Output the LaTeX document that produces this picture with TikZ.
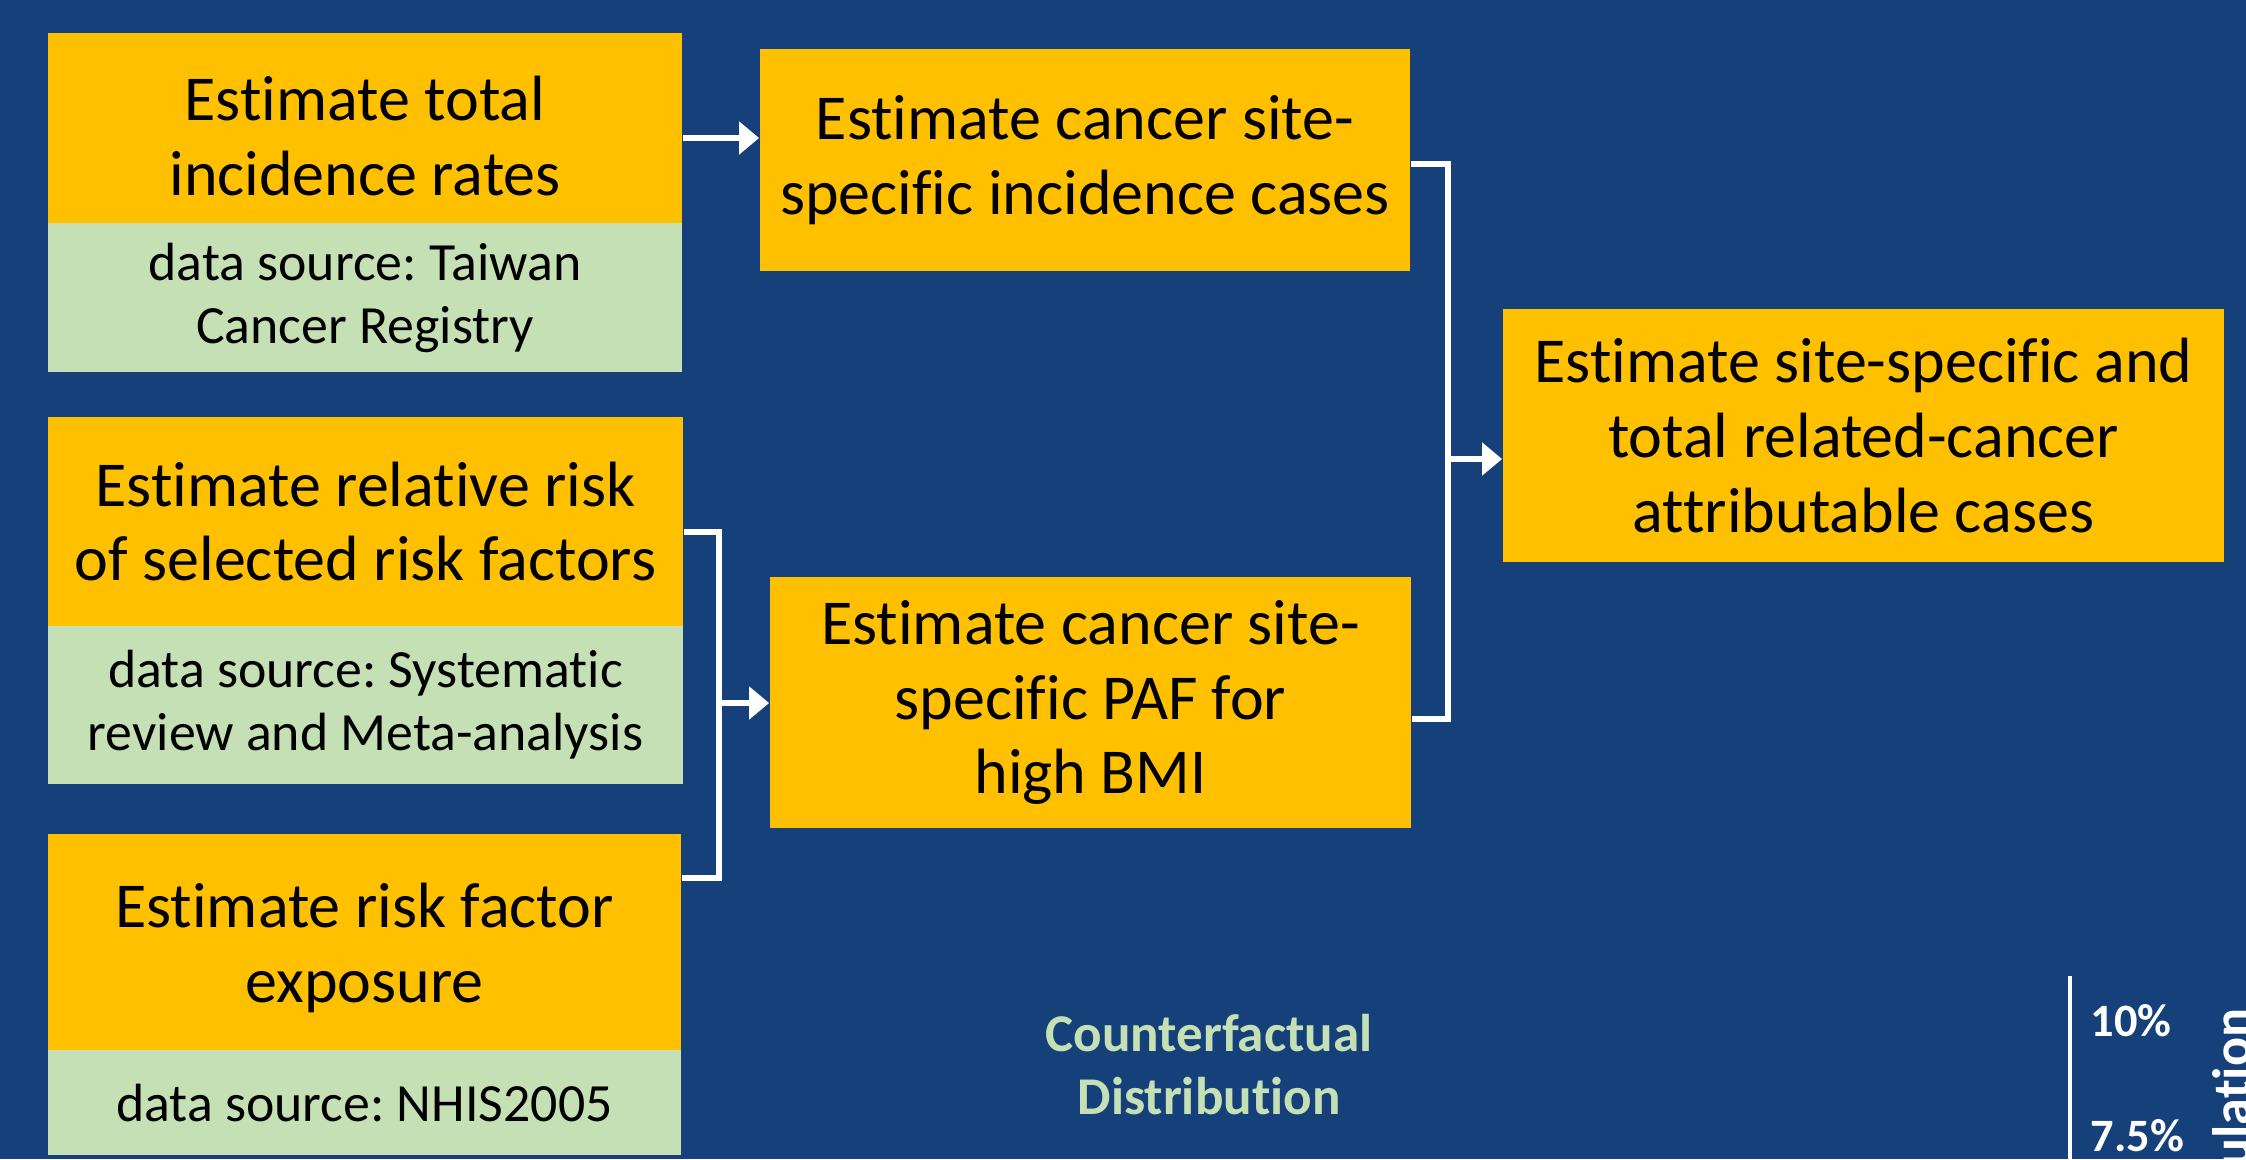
\documentclass[tikz,border=0pt]{standalone}
\usepackage{fontspec}
\setmainfont{Carlito}[Ligatures = NoCommon]
\usetikzlibrary{arrows.meta}

\definecolor{slide}{RGB}{21,64,122}
\definecolor{boxorange}{RGB}{255,192,0}
\definecolor{boxgreen}{RGB}{197,224,180}

\frenchspacing

\begin{document}
\begin{tikzpicture}[
  x = 0.01cm, y = -0.01cm,
  task/.style = {rectangle, fill = boxorange, inner sep = 0pt, align = center,
    font = \fontsize{18.2}{21.3}\selectfont},
  source/.style = {rectangle, fill = boxgreen, inner sep = 0pt, align = center,
    font = \fontsize{15.3}{17.9}\selectfont},
  link/.style = {draw = white, line width = 0.06cm},
  flow/.style = {link, -{Triangle[length = 0.2cm, width = 0.32cm]}},
  tick/.style = {anchor = base west, inner sep = 0pt, text = white,
    font = \bfseries\fontsize{13.2}{16}\selectfont}
  ]

  % Background
  \fill [slide] (0, 0) rectangle (2246, 1159);
  \useasboundingbox (0, 0) rectangle (2246, 1159);
  \clip (0, 0) rectangle (2246, 1159);

  % Nodes (the green source boxes lie over the foot of the orange ones)
  \node at ( 365, 136) [task, name = inc, minimum width = 6.34cm,
    minimum height = 2.06cm] {Estimate total\\incidence rates};
  \node at ( 365, 297.5) [source, name = inc_src, minimum width = 6.34cm,
    minimum height = 1.49cm] {data source: Taiwan\\Cancer Registry};

  \node at ( 365.5, 521.5) [task, name = rr, minimum width = 6.35cm,
    minimum height = 2.09cm] {Estimate relative risk\\of selected risk factors};
  \node at ( 365.5, 705) [source, name = rr_src, minimum width = 6.35cm,
    minimum height = 1.58cm] {data source: Systematic\\review and Meta-analysis};

  \node at ( 364.5, 948) [task, name = expo, minimum width = 6.33cm,
    minimum height = 2.28cm] {Estimate risk factor\\exposure};
  \node at ( 364.5, 1102.5) [source, name = expo_src, minimum width = 6.33cm,
    minimum height = 1.05cm] {data source: NHIS2005};

  \node at (1085, 160) [task, name = cases, minimum width = 6.50cm,
    minimum height = 2.22cm] {Estimate cancer site-\\specific incidence cases};
  \node at (1090.5, 702.5) [task, name = paf, minimum width = 6.41cm,
    minimum height = 2.51cm] {Estimate cancer site-\\specific PAF for\\high BMI};

  \node at (1863.5, 435.5) [task, name = total, minimum width = 7.21cm,
    minimum height = 2.53cm]
  {Estimate site-specific and\\total related-cancer\\attributable cases};

  \node at (1209, 1065) [align = center, text = boxgreen, inner sep = 0pt,
    font = \bfseries\fontsize{15.1}{17.9}\selectfont, name = cf_label]
  {Counterfactual\\Distribution};

  % partly cut chart at the corner
  \draw [white, line width = 0.04cm] (2070, 976) -- (2070, 1170);
  \node at (2090, 1036) [tick, name = tick_hi] {10\%};
  \node at (2090, 1151) [tick, name = tick_lo] {7.5\%};
  \node at (2250, 1008) [anchor = base east, rotate = 90, inner sep = 0pt,
    text = white, font = \bfseries\fontsize{15.4}{18}\selectfont,
    name = axis_label] {Population};

  % Arrows
  \coordinate (join_left)  at ( 719, 703);
  \coordinate (join_right) at (1448, 459);

  \draw [flow] ([yshift = -0.2mm]inc.east) -- ([yshift = -0.2mm]inc.east -| cases.west);

  \draw [link] ([yshift = -1.05mm]rr.east) -| (join_left)
    |- ([yshift = 7mm]expo.east);
  \draw [flow] (join_left) -- (join_left -| paf.west);

  \draw [link] ([yshift = -0.4mm]cases.east) -| (join_right)
    |- ([yshift = -1.65mm]paf.east);
  \draw [flow] (join_right) -- (join_right -| total.west);

\end{tikzpicture}
\end{document}
